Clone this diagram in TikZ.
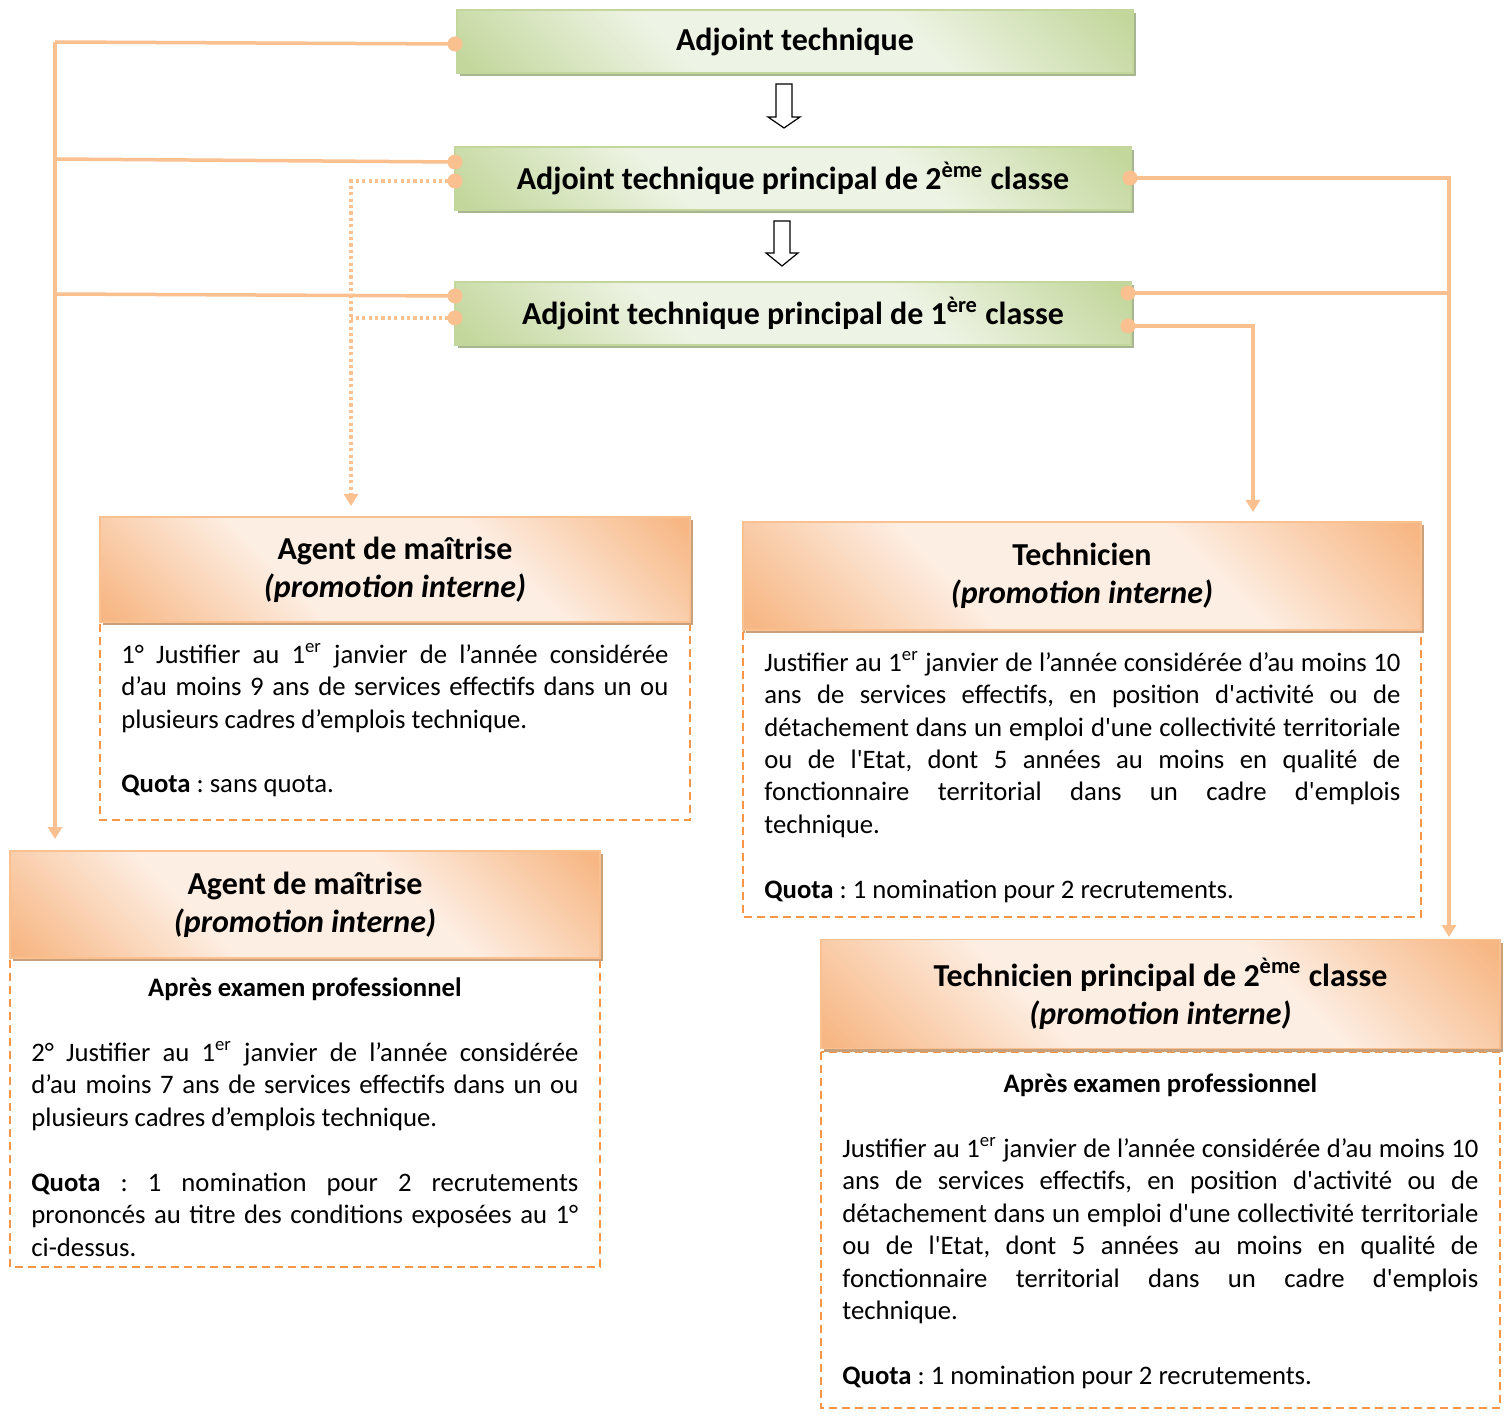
\documentclass[tikz,border=0pt]{standalone}
\usepackage{fontspec}
\setmainfont{Carlito}[Ligatures=TeXOff]
\usetikzlibrary{arrows.meta,shadows}
\definecolor{linkc}{HTML}{FAC090}
\definecolor{dashc}{HTML}{F79646}
\definecolor{gdark}{HTML}{C3D79C}
\definecolor{glight}{HTML}{EEF4E5}
\definecolor{gline}{HTML}{C3D69B}
\definecolor{gshadow}{HTML}{A7B592}
\definecolor{odark}{HTML}{F7B784}
\definecolor{olight}{HTML}{FDEEE3}
\definecolor{oshadow}{HTML}{C9A07C}
\pgfdeclareverticalshading{oshade}{100bp}{color(0bp)=(odark); color(16bp)=(odark); color(38bp)=(olight); color(62bp)=(olight); color(84bp)=(odark); color(100bp)=(odark)}
\pgfdeclareverticalshading{gshade}{100bp}{color(0bp)=(gdark); color(16bp)=(gdark); color(38bp)=(glight); color(62bp)=(glight); color(84bp)=(gdark); color(100bp)=(gdark)}
\tolerance=10000
\hbadness=10000
\hyphenpenalty=10000
\exhyphenpenalty=10000
\frenchspacing
\begin{document}
\begin{tikzpicture}[x=0.5pt,y=-0.5pt,
  greenbox/.style={draw=gline, line width=0.8pt, shade, shading=gshade, shading angle=-45,
    minimum width=338pt, minimum height=31.5pt, inner sep=0pt,
    font=\fontsize{16}{19}\selectfont\bfseries,
    drop shadow={shadow xshift=1.5pt, shadow yshift=-1.5pt, fill=gshadow, opacity=1}},
  headbox/.style={draw=linkc, line width=0.8pt, shade, shading=oshade, shading angle=-45,
    inner sep=0pt, align=center, font=\fontsize{16}{19}\selectfont\bfseries,
    drop shadow={shadow xshift=1.5pt, shadow yshift=-1.5pt, fill=oshadow, opacity=1}},
  bodybox/.style={draw=dashc, line width=1.2pt, dash pattern=on 4pt off 2.5pt},
  bodytext/.style={anchor=base west, inner sep=0pt, align=justify,
    font=\fontsize{13.35}{16.25}\selectfont},
  link/.style={draw=linkc, line width=1.75pt},
  dottedlink/.style={draw=linkc, line width=1.6pt, dash pattern=on 1.6pt off 1.6pt},
  arrowend/.style={-{Triangle[width=7pt,length=6pt]}},
  hollow/.style={draw=black, fill=white, line width=0.6pt, line join=miter},
  dotmark/.style={fill=linkc}
]
\fill[white] (0,0) rectangle (1511,1417);
\useasboundingbox (0,0) rectangle (1511,1417);

% green boxes
\node[greenbox] (g1) at (795,41.5) {Adjoint technique};
\node[greenbox] (g2) at (793,178.5) {Adjoint technique principal de 2\textsuperscript{ème} classe};
\node[greenbox] (g3) at (793,313.5) {Adjoint technique principal de 1\textsuperscript{ère} classe};

% hollow arrows
\draw[hollow] (776,84) -- (792,84) -- (792,117) -- (800,117) -- (784,128) -- (768,117) -- (776,117) -- cycle;
\draw[hollow] (774,221) -- (790,221) -- (790,253) -- (798,253) -- (782,266) -- (766,253) -- (774,253) -- cycle;

% body boxes
\draw[bodybox] (100,624) rectangle (690,820);
\draw[bodybox] (10,960) rectangle (600,1267);
\draw[bodybox] (743,632) rectangle (1421,917);
\draw[bodybox] (821,1052) rectangle (1500,1408);

% headers
\node[headbox, minimum width=295pt, minimum height=52.5pt] (hA) at (395,569.5) {Agent de maîtrise\\\textit{(promotion interne)}};
\node[headbox, minimum width=295pt, minimum height=53.5pt] (hB) at (305,904.5) {Agent de maîtrise\\\textit{(promotion interne)}};
\node[headbox, minimum width=339pt, minimum height=54pt] (hC) at (1082,576) {Technicien\\\textit{(promotion interne)}};
\node[headbox, minimum width=339.5pt, minimum height=54.5pt] (hD) at (1160.5,994) {Technicien principal de 2\textsuperscript{ème} classe\\\textit{(promotion interne)}};

% body texts
\node[bodytext, text width=273.5pt] (tA) at (121,663) {1° Justifier au 1\textsuperscript{er} janvier de l’année considérée\linebreak d’au moins 9 ans de services effectifs dans un ou\linebreak plusieurs cadres d’emplois technique.\par\vspace{16.25pt}\textbf{Quota} : sans quota.};

\node[bodytext, text width=273.5pt] (tB) at (31,996) {\makebox[\linewidth]{\textbf{Après examen professionnel}}\par\vspace{16.25pt}2° Justifier au 1\textsuperscript{er} janvier de l’année considérée\linebreak d’au moins 7 ans de services effectifs dans un ou\linebreak plusieurs cadres d’emplois technique.\par\vspace{16.25pt}\textbf{Quota} : 1 nomination pour 2 recrutements\linebreak prononcés au titre des conditions exposées au 1°\linebreak ci-dessus.};

\node[bodytext, text width=318pt] (tC) at (764,671) {Justifier au 1\textsuperscript{er} janvier de l’année considérée d’au moins 10\linebreak ans de services effectifs, en position d'activité ou de\linebreak détachement dans un emploi d'une collectivité territoriale\linebreak ou de l'Etat, dont 5 années au moins en qualité de\linebreak fonctionnaire territorial dans un cadre d'emplois\linebreak technique.\par\vspace{16.25pt}\textbf{Quota} : 1 nomination pour 2 recrutements.};

\node[bodytext, text width=318pt] (tD) at (842,1092) {\makebox[\linewidth]{\textbf{Après examen professionnel}}\par\vspace{16.25pt}Justifier au 1\textsuperscript{er} janvier de l’année considérée d’au moins 10\linebreak ans de services effectifs, en position d'activité ou de\linebreak détachement dans un emploi d'une collectivité territoriale\linebreak ou de l'Etat, dont 5 années au moins en qualité de\linebreak fonctionnaire territorial dans un cadre d'emplois\linebreak technique.\par\vspace{16.25pt}\textbf{Quota} : 1 nomination pour 2 recrutements.};

% connector points
\coordinate (d1) at (455,44);
\coordinate (d2) at (455,162);
\coordinate (d3) at (455,296);
\coordinate (d2b) at (455,181);
\coordinate (d3b) at (455,318);
\coordinate (r1) at (1130,178);
\coordinate (r2) at (1128,293);
\coordinate (r3) at (1128,326);
\coordinate (t1) at (55,42);
\coordinate (t2) at (55,159);
\coordinate (t3) at (55,294);
\coordinate (t4) at (55,839);
\coordinate (p1) at (351,181);
\coordinate (p2) at (351,318);
\coordinate (p3) at (351,506);
\coordinate (q1) at (1449,178);
\coordinate (q2) at (1449,293);
\coordinate (q3) at (1449,937);
\coordinate (s1) at (1253,326);
\coordinate (s2) at (1253,512);

% connectors
\draw[link] (t1) -- (d1);
\draw[link] (t2) -- (d2);
\draw[link] (t3) -- (d3);
\draw[link, arrowend] (t1) -- (t4);
\draw[dottedlink] (d3b) -- (p2);
\draw[dottedlink, arrowend] (d2b) -- (p1) -- (p3);
\draw[link, arrowend] (r1) -- (q1) -- (q3);
\draw[link] (r2) -- (q2);
\draw[link, arrowend] (r3) -- (s1) -- (s2);

% dots
\foreach \d in {d1,d2,d3,d2b,d3b,r1,r2,r3} \fill[dotmark] (\d) circle (3.75pt);
\end{tikzpicture}
\end{document}
